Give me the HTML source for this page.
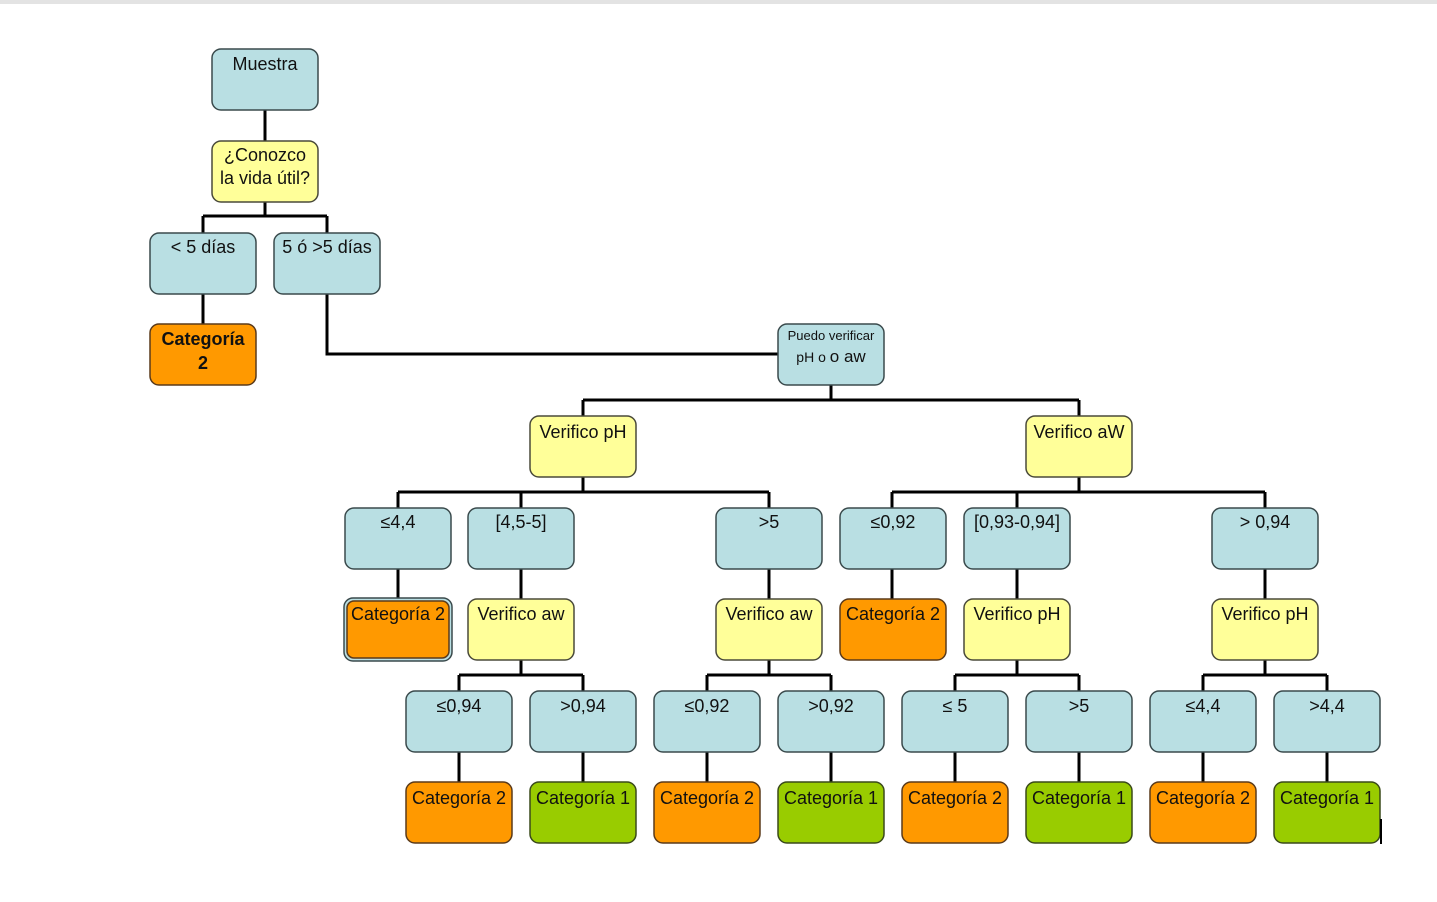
<!DOCTYPE html>
<html><head><meta charset="utf-8"><style>
html,body{margin:0;padding:0;background:#fff;}
svg{display:block;}
text{font-family:"Liberation Sans",sans-serif;font-size:18px;fill:#111;text-anchor:middle;}
.b{fill:#b9dfe3;stroke:#3a4a4c;stroke-width:1.5}
.y{fill:#ffff99;stroke:#4a4a3a;stroke-width:1.5}
.o{fill:#ff9900;stroke:#5a3a1a;stroke-width:1.5}
.g{fill:#99cc00;stroke:#3a4a1a;stroke-width:1.5}
.l{stroke:#000;stroke-width:3;fill:none}
</style></head><body>
<svg width="1437" height="902" viewBox="0 0 1437 902">
<rect x="0" y="0" width="1437" height="4" fill="#e3e3e3"/>
<!-- connectors -->
<path class="l" d="M265 110V141 M265 202V216 M203 216H327 M203 216V233 M327 216V233 M203 294V324 M327 294V354H778
M831 385V400 M583 400H1079 M583 400V416 M1079 400V416
M583 477V492 M398 492H769 M398 492V508 M521 492V508 M769 492V508
M1079 477V492 M892 492H1265 M892 492V508 M1017 492V508 M1265 492V508
M398 569V599 M521 569V599 M769 569V599 M892 569V599 M1017 569V599 M1265 569V599
M521 660V675 M459 675H583 M459 675V691 M583 675V691
M769 660V675 M707 675H831 M707 675V691 M831 675V691
M1017 660V675 M955 675H1079 M955 675V691 M1079 675V691
M1265 660V675 M1203 675H1327 M1203 675V691 M1327 675V691
M459 752V782 M583 752V782 M707 752V782 M831 752V782 M955 752V782 M1079 752V782 M1203 752V782 M1327 752V782"/>
<!-- nodes -->
<rect class="b" x="212" y="49" width="106" height="61" rx="9"/><text x="265" y="70">Muestra</text>
<rect class="y" x="212" y="141" width="106" height="61" rx="9"/><text x="265" y="161">¿Conozco</text><text x="265" y="184">la vida útil?</text>
<rect class="b" x="150" y="233" width="106" height="61" rx="9"/><text x="203" y="253">&lt; 5 días</text>
<rect class="b" x="274" y="233" width="106" height="61" rx="9"/><text x="327" y="253">5 ó &gt;5 días</text>
<rect class="o" x="150" y="324" width="106" height="61" rx="9"/><text x="203" y="345" font-weight="bold">Categoría</text><text x="203" y="369" font-weight="bold">2</text>
<rect class="b" x="778" y="324" width="106" height="61" rx="9"/><text x="831" y="340" style="font-size:13px">Puedo verificar</text><text x="831" y="362" style="font-size:14px">pH o  <tspan style="font-size:17px">o aw</tspan></text>
<rect class="y" x="530" y="416" width="106" height="61" rx="9"/><text x="583" y="438">Verifico pH</text>
<rect class="y" x="1026" y="416" width="106" height="61" rx="9"/><text x="1079" y="438">Verifico aW</text>

<rect class="b" x="345" y="508" width="106" height="61" rx="9"/><text x="398" y="528">≤4,4</text>
<rect class="b" x="468" y="508" width="106" height="61" rx="9"/><text x="521" y="528">[4,5-5]</text>
<rect class="b" x="716" y="508" width="106" height="61" rx="9"/><text x="769" y="528">&gt;5</text>
<rect class="b" x="840" y="508" width="106" height="61" rx="9"/><text x="893" y="528">≤0,92</text>
<rect class="b" x="964" y="508" width="106" height="61" rx="9"/><text x="1017" y="528">[0,93-0,94]</text>
<rect class="b" x="1212" y="508" width="106" height="61" rx="9"/><text x="1265" y="528">&gt; 0,94</text>

<rect class="b" x="344" y="598" width="108" height="63" rx="9"/>
<rect class="o" x="347" y="601" width="102" height="57" rx="7"/><text x="398" y="620">Categoría 2</text>
<rect class="y" x="468" y="599" width="106" height="61" rx="9"/><text x="521" y="620">Verifico aw</text>
<rect class="y" x="716" y="599" width="106" height="61" rx="9"/><text x="769" y="620">Verifico aw</text>
<rect class="o" x="840" y="599" width="106" height="61" rx="9"/><text x="893" y="620">Categoría 2</text>
<rect class="y" x="964" y="599" width="106" height="61" rx="9"/><text x="1017" y="620">Verifico pH</text>
<rect class="y" x="1212" y="599" width="106" height="61" rx="9"/><text x="1265" y="620">Verifico pH</text>

<rect class="b" x="406" y="691" width="106" height="61" rx="9"/><text x="459" y="712">≤0,94</text>
<rect class="b" x="530" y="691" width="106" height="61" rx="9"/><text x="583" y="712">&gt;0,94</text>
<rect class="b" x="654" y="691" width="106" height="61" rx="9"/><text x="707" y="712">≤0,92</text>
<rect class="b" x="778" y="691" width="106" height="61" rx="9"/><text x="831" y="712">&gt;0,92</text>
<rect class="b" x="902" y="691" width="106" height="61" rx="9"/><text x="955" y="712">≤ 5</text>
<rect class="b" x="1026" y="691" width="106" height="61" rx="9"/><text x="1079" y="712">&gt;5</text>
<rect class="b" x="1150" y="691" width="106" height="61" rx="9"/><text x="1203" y="712">≤4,4</text>
<rect class="b" x="1274" y="691" width="106" height="61" rx="9"/><text x="1327" y="712">&gt;4,4</text>

<rect class="o" x="406" y="782" width="106" height="61" rx="9"/><text x="459" y="804">Categoría 2</text>
<rect class="g" x="530" y="782" width="106" height="61" rx="9"/><text x="583" y="804">Categoría 1</text>
<rect class="o" x="654" y="782" width="106" height="61" rx="9"/><text x="707" y="804">Categoría 2</text>
<rect class="g" x="778" y="782" width="106" height="61" rx="9"/><text x="831" y="804">Categoría 1</text>
<rect class="o" x="902" y="782" width="106" height="61" rx="9"/><text x="955" y="804">Categoría 2</text>
<rect class="g" x="1026" y="782" width="106" height="61" rx="9"/><text x="1079" y="804">Categoría 1</text>
<rect class="o" x="1150" y="782" width="106" height="61" rx="9"/><text x="1203" y="804">Categoría 2</text>
<rect class="g" x="1274" y="782" width="106" height="61" rx="9"/><text x="1327" y="804">Categoría 1</text>
<rect x="1380" y="819" width="2" height="25" fill="#000"/>
</svg>
</body></html>
